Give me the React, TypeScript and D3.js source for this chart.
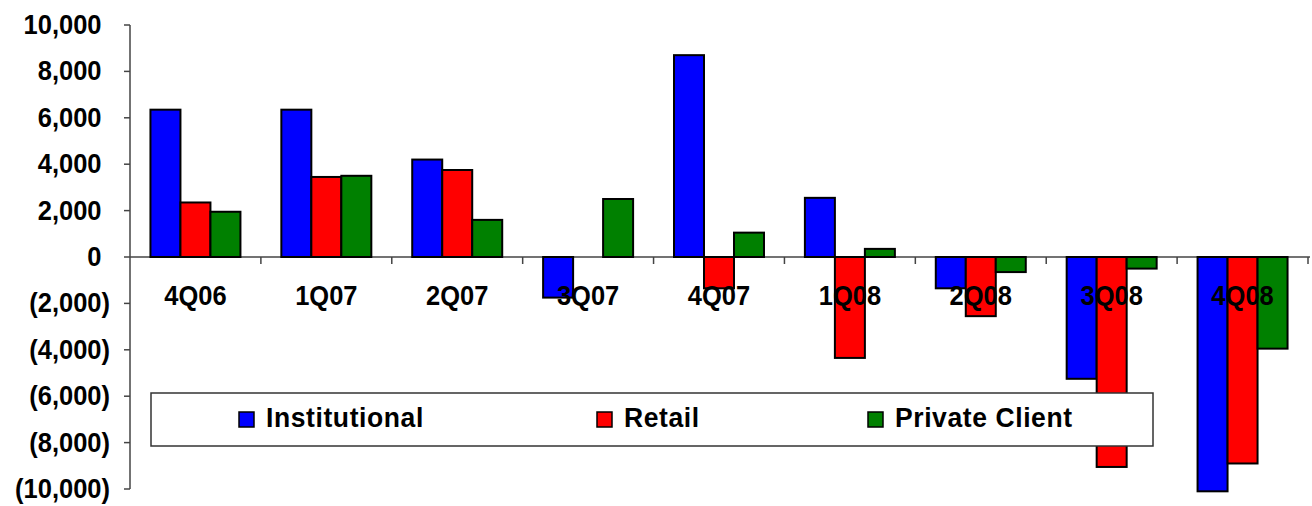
import React from "react";
import * as d3 from "d3";

// Quarterly net flows by client segment
const quarters = ["4Q06", "1Q07", "2Q07", "3Q07", "4Q07", "1Q08", "2Q08", "3Q08", "4Q08"];
const seriesNames = ["Institutional", "Retail", "Private Client"];
const institutional = [6350, 6350, 4200, -1750, 8700, 2550, -1350, -5250, -10100];
const retail = [2350, 3450, 3750, 0, -1350, -4350, -2550, -9050, -8900];
const privateClient = [1950, 3500, 1600, 2500, 1050, 350, -650, -500, -3950];
const yTicks = [10000, 8000, 6000, 4000, 2000, 0, -2000, -4000, -6000, -8000, -10000];

const seriesValues = [institutional, retail, privateClient];
const colors = ["#0000FF", "#FF0000", "#008000"];

const W = 1312;
const H = 506;
const FONT = "'Liberation Sans', Arial, Helvetica, sans-serif";
const STRETCH = 1.1;

export default function App() {
  const x0 = d3.scaleBand<string>().domain(quarters).range([130, 1308]).paddingInner(0).paddingOuter(0);
  const band = x0.bandwidth();
  const gap = band * 0.3125;
  const x1 = d3
    .scaleBand<string>()
    .domain(seriesNames)
    .range([gap / 2, band - gap / 2])
    .padding(0);
  const y = d3.scaleLinear().domain([-10000, 10000]).range([489, 25]);

  const fmt = d3.format(",");
  const label = (v: number) => (v < 0 ? `(${fmt(-v)})` : fmt(v));

  const legendX = [239, 597, 868];

  return (
    <svg
      width={W}
      height={H}
      viewBox={`0 0 ${W} ${H}`}
      style={{ position: "absolute", left: 0, top: 0, background: "#fff" }}
      fontFamily={FONT}
      fontWeight="bold"
    >
      <rect x={0} y={0} width={W} height={H} fill="#fff" />

      {/* value axis */}
      <line x1={130} x2={130} y1={y(10000)} y2={y(-10000)} stroke="#444" strokeWidth={1.5} />
      {yTicks.map((t) => (
        <g key={t}>
          <line x1={124} x2={130} y1={y(t)} y2={y(t)} stroke="#444" strokeWidth={1.5} />
          <text
            transform={`translate(110,${y(t) + 9}) scale(1,${STRETCH})`}
            dx={t < 0 ? 0 : "-0.333em"}
            textAnchor="end"
            fontSize={25.5}
            fill="#000"
          >
            {label(t)}
          </text>
        </g>
      ))}

      {/* category axis at zero */}
      <line x1={130} x2={1310} y1={y(0)} y2={y(0)} stroke="#444" strokeWidth={1.5} />
      {quarters.map((q) => (
        <line
          key={q}
          x1={(x0(q) ?? 0) + band}
          x2={(x0(q) ?? 0) + band}
          y1={y(0)}
          y2={y(0) + 7}
          stroke="#444"
          strokeWidth={1.5}
        />
      ))}

      {/* bars */}
      {quarters.map((q, i) => (
        <g key={q} transform={`translate(${x0(q)},0)`}>
          {seriesNames.map((s, k) => {
            const v = seriesValues[k][i];
            if (v === 0) return null;
            const top = Math.min(y(v), y(0));
            const h = Math.abs(y(v) - y(0));
            return (
              <rect
                key={s}
                x={x1(s)}
                y={top}
                width={x1.bandwidth()}
                height={h}
                fill={colors[k]}
                stroke="#000"
                strokeWidth={2}
              />
            );
          })}
        </g>
      ))}

      {/* category labels */}
      {quarters.map((q) => (
        <text
          key={q}
          transform={`translate(${(x0(q) ?? 0) + band / 2},305) scale(1,${STRETCH})`}
          textAnchor="middle"
          fontSize={25.5}
          fill="#000"
        >
          {q}
        </text>
      ))}

      {/* legend */}
      <rect x={151} y={393} width={1002} height={53} fill="#fff" stroke="#333" strokeWidth={1.5} />
      {seriesNames.map((s, k) => (
        <g key={s}>
          <rect
            x={legendX[k]}
            y={412}
            width={15}
            height={15}
            fill={colors[k]}
            stroke="#000"
            strokeWidth={1.5}
          />
          <text
            transform={`translate(${legendX[k] + 27},426.5) scale(1,1.04)`}
            fontSize={26.5}
            letterSpacing={0.6}
            fill="#000"
          >
            {s}
          </text>
        </g>
      ))}
    </svg>
  );
}
